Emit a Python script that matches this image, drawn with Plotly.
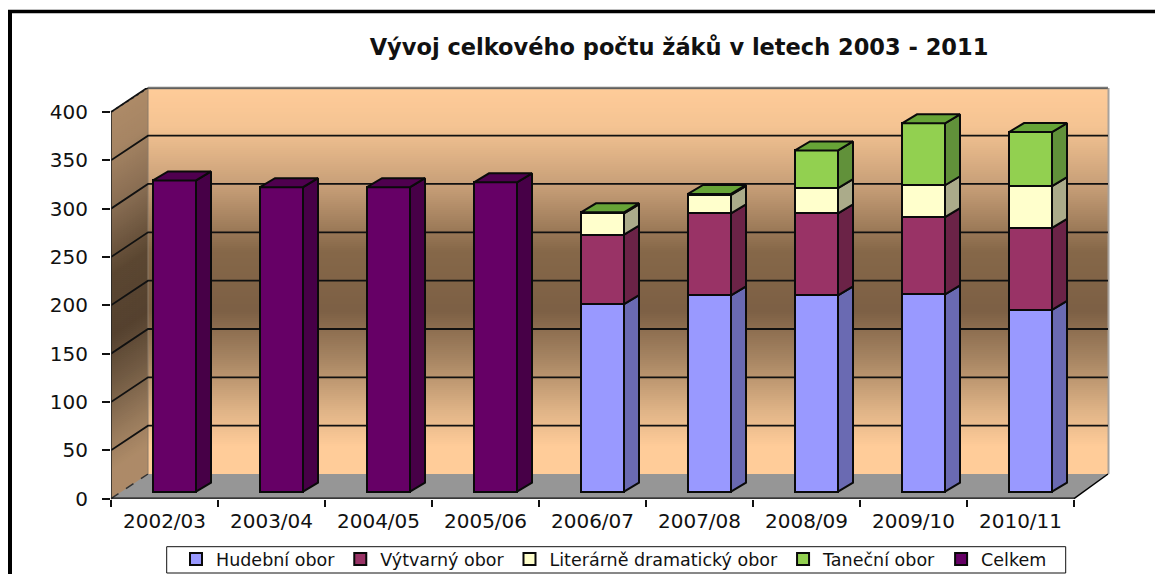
import plotly.graph_objects as go

W, H = 1155, 574
categories = ["2002/03", "2003/04", "2004/05", "2005/06", "2006/07", "2007/08", "2008/09", "2009/10", "2010/11"]
hudebni = [None, None, None, None, 194, 203, 203, 204, 188]
vytvarny = [None, None, None, None, 72, 85, 85, 80, 85]
literarne = [None, None, None, None, 22, 19, 26, 33, 43]
tanecni = [None, None, None, None, 1, 1, 39, 64, 56]
celkem = [322, 315, 315, 320, None, None, None, None, None]
y_ticks = [0, 50, 100, 150, 200, 250, 300, 350, 400]
title_text = "Vývoj celkového počtu žáků v letech 2003 - 2011"

FONT = "DejaVu Sans"
# pixel geometry of the 3-D box
L, R_FRONT, R_BACK = 111, 1074, 1108
Y0, Y400, TOP, BACK_Y = 498.7, 112, 88, 474
DX, DY = 37, 24.7
PX_CAT = (R_FRONT - L) / len(categories)
PX_VAL = (Y0 - Y400) / 400
xr = [-0.5, -0.5 + (R_BACK - L) / PX_CAT]
yr = [0, (Y0 - TOP) / PX_VAL]
SH_X, SH_Y = 10 / PX_CAT, 7 / PX_VAL
BAR_W = 43 / PX_CAT
DEP_X, DEP_Y = 15 / PX_CAT, 9 / PX_VAL


def px(x):
    return x / W


def py(y):
    return 1 - y / H


stops = [(88, "#FFCC99"), (125, "#F5C493"), (185, "#C79F78"), (250, "#866849"), (310, "#7D6045"),
         (360, "#A98764"), (410, "#E0B487"), (445, "#FFCC99"), (475, "#FFCC99")]


def rgb(h):
    return [int(h[i:i + 2], 16) for i in (1, 3, 5)]


def grad(y, k=1.0):
    for (a, ca), (b, cb) in zip(stops, stops[1:]):
        if a <= y <= b:
            t = (y - a) / (b - a)
            c = [(p + (q - p) * t) * k for p, q in zip(rgb(ca), rgb(cb))]
            return "rgb(%d,%d,%d)" % tuple(c)
    return stops[-1][1]


def poly(pts, **kw):
    path = "M" + " L".join(f"{px(x):.5f},{py(y):.5f}" for x, y in pts) + " Z"
    return dict(type="path", path=path, xref="paper", yref="paper", layer="below", **kw)


def seg(x0, y0, x1, y1, color="black", width=1.5, dash="solid", layer="below"):
    return dict(type="line", xref="paper", yref="paper", x0=px(x0), y0=py(y0), x1=px(x1), y1=py(y1),
                line=dict(color=color, width=width, dash=dash), layer=layer)


shapes = []
y = TOP
while y < BACK_Y:
    c = grad(y)
    shapes.append(dict(type="rect", xref="paper", yref="paper", layer="below",
                       x0=px(L + DX), x1=px(R_BACK), y0=py(y), y1=py(y + 3), fillcolor=c, line_width=0))
    c2 = grad(y, 0.68)
    shapes.append(poly([(L, y + DY), (L + DX, y), (L + DX, y + 3), (L, y + 3 + DY)], fillcolor=c2, line_width=0))
    y += 2
shapes.append(poly([(L, Y0), (L + DX, BACK_Y), (R_BACK, BACK_Y), (R_FRONT, Y0)], fillcolor="#969696", line_width=0))
shapes.append(seg(L + DX, TOP, R_BACK, TOP, "#7A7A78", 2.5))
shapes.append(seg(R_BACK + 0.5, TOP, R_BACK + 0.5, BACK_Y, "#A8A29C", 2))
shapes.append(seg(L, Y400, L + DX, TOP, "#333333", 1.5, "dot"))
shapes.append(seg(L, Y0, L + DX, BACK_Y, "#333333", 1.5, "dash"))
shapes.append(seg(L + DX, TOP, L + DX, BACK_Y, "#8A7A68", 1))
shapes.append(seg(R_FRONT, Y0, R_BACK, BACK_Y, "black", 1.5))
# outer frame of the page
shapes.append(seg(8, 11.5, W, 11.5, "black", 3.5))
shapes.append(seg(10, 10, 10, H, "black", 4))
# legend box
shapes.append(dict(type="rect", xref="paper", yref="paper", layer="below", x0=px(166.7), x1=px(1065.7),
                   y0=py(546.7), y1=py(573), fillcolor="white", line=dict(color="#111111", width=1)))

fig = go.Figure()

# gridlines: along the side wall and the back wall
gx, gy = [], []
for v in y_ticks[1:]:
    gx += [xr[0], xr[0] + DX / PX_CAT, xr[1], None]
    gy += [v, v + DY / PX_VAL, v + DY / PX_VAL, None]
fig.add_trace(go.Scatter(x=gx, y=gy, mode="lines", line=dict(color="#111111", width=1.8),
                         showlegend=False, hoverinfo="skip"))
# axis lines
fig.add_trace(go.Scatter(x=[xr[0], len(categories) - 0.5], y=[0, 0], mode="lines", cliponaxis=False,
                         line=dict(color="#111111", width=2.4), showlegend=False, hoverinfo="skip"))
fig.add_trace(go.Scatter(x=[xr[0], xr[0]], y=[0, 400], mode="lines", cliponaxis=False,
                         line=dict(color="#222222", width=1.5), showlegend=False, hoverinfo="skip"))

series = [
    ("Hudební obor", hudebni, "#9999FF", "#6A6AB2", "#8080D0"),
    ("Výtvarný obor", vytvarny, "#993366", "#6B2347", "#7A2952"),
    ("Literárně dramatický obor", literarne, "#FFFFCC", "#ABAB8A", "#D8D8AC"),
    ("Taneční obor", tanecni, "#92D050", "#61913A", "#67A437"),
    ("Celkem", celkem, "#660066", "#470047", "#4F004F"),
]
LINE = dict(color="#0A0A0A", width=2)

# 3-D side and top faces derived from the data values
bottoms = [0.0] * len(categories)
for name, vals, col, side, top in series:
    for i, v in enumerate(vals):
        if v is None:
            continue
        b, t = bottoms[i], bottoms[i] + v
        xr_edge = i + BAR_W / 2
        fig.add_trace(go.Scatter(
            x=[xr_edge, xr_edge + DEP_X, xr_edge + DEP_X, xr_edge, xr_edge],
            y=[b, b + DEP_Y, t + DEP_Y, t, b], xaxis="x2", yaxis="y2", mode="lines", fill="toself",
            fillcolor=side, line=LINE, showlegend=False, hoverinfo="skip"))
        bottoms[i] = t

for i in range(len(categories)):
    t = bottoms[i]
    top_col = next(s[4] for s in reversed(series) if s[1][i] is not None)
    xl = i - BAR_W / 2
    fig.add_trace(go.Scatter(
        x=[xl, xl + DEP_X, xl + BAR_W + DEP_X, xl + BAR_W, xl],
        y=[t, t + DEP_Y, t + DEP_Y, t, t], xaxis="x2", yaxis="y2", mode="lines", fill="toself",
        fillcolor=top_col, line=LINE, showlegend=False, hoverinfo="skip"))

for name, vals, col, side, top in series:
    fig.add_trace(go.Bar(name=name, x=list(range(len(categories))), y=vals, xaxis="x2", yaxis="y2",
                         width=BAR_W, marker=dict(color=col, line=LINE)))

dom_x = [px(L), px(R_BACK)]
dom_y = [py(Y0), py(TOP)]
fig.update_layout(
    width=W, height=H, margin=dict(l=0, r=0, t=0, b=0, autoexpand=False),
    paper_bgcolor="white", plot_bgcolor="rgba(0,0,0,0)",
    barmode="stack", shapes=shapes, font=dict(family=FONT, color="#111111"),
    title=dict(text=title_text, x=679 / W, xref="paper", xanchor="center", y=py(47), yref="paper", yanchor="middle",
               font=dict(family=FONT, size=22.5, color="#111111", weight="bold")),
    xaxis=dict(domain=dom_x, range=xr, tickmode="array", tickvals=list(range(len(categories))), ticktext=categories,
               ticks="", showgrid=False, zeroline=False, showline=False, tickfont=dict(size=20), ticklabelstandoff=8,
               minor=dict(tickmode="array", tickvals=[i - 0.5 for i in range(len(categories) + 1)], ticks="outside",
                          ticklen=7, tickwidth=1.5, tickcolor="#111111", showgrid=False)),
    yaxis=dict(domain=dom_y, range=yr, tickmode="array", tickvals=y_ticks, ticks="outside", ticklen=8, tickwidth=1.5,
               tickcolor="#111111", showgrid=False, zeroline=False, showline=False, tickfont=dict(size=20),
               ticklabelstandoff=10),
    xaxis2=dict(domain=dom_x, range=[xr[0] - SH_X, xr[1] - SH_X], overlaying="x", anchor="y2", visible=False),
    yaxis2=dict(domain=dom_y, range=[yr[0] - SH_Y, yr[1] - SH_Y], overlaying="y", anchor="x2", visible=False),
    legend=dict(orientation="h", x=px(176), y=py(541), xanchor="left", yanchor="top", borderwidth=0,
                bgcolor="rgba(0,0,0,0)", font=dict(size=17.5, color="#111111"), traceorder="normal",
                itemwidth=30, tracegroupgap=0),
)
fig.write_html("out.html", post_script="document.body.style.margin='0';", config={"displayModeBar": False})
